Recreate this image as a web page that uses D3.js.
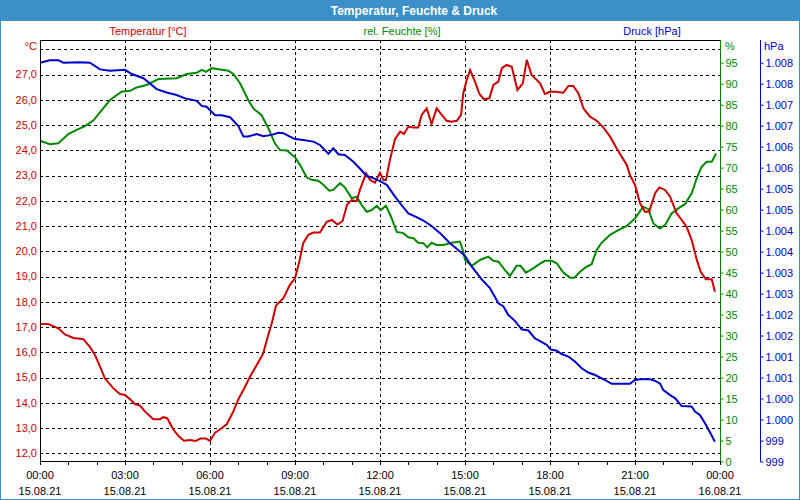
<!DOCTYPE html>
<html><head><meta charset="utf-8">
<script src="https://cdn.jsdelivr.net/npm/d3@7/dist/d3.min.js"></script>
<style>
body{margin:0;background:#fff}
text{font-family:"Liberation Sans",Arial,sans-serif;font-size:11px}
</style>
</head><body>
<svg id="c" width="800" height="500"></svg>
<script>
// ---- data: [hour since 15.08.21 00:00, value] ----
const temperature = [[0,17.12],[0.29,17.12],[0.65,16.95],[0.88,16.71],[1.18,16.57],[1.53,16.52],[1.76,16.22],[1.94,15.89],[2.12,15.43],[2.29,14.97],[2.59,14.57],[2.82,14.35],[3.0,14.31],[3.18,14.14],[3.35,13.95],[3.53,13.89],[3.71,13.65],[4.0,13.35],[4.24,13.35],[4.35,13.43],[4.49,13.39],[4.7,12.95],[4.88,12.69],[5.08,12.5],[5.29,12.53],[5.5,12.49],[5.67,12.59],[5.85,12.59],[6.0,12.49],[6.18,12.82],[6.41,12.99],[6.59,13.15],[6.82,13.65],[7.0,14.14],[7.18,14.51],[7.41,15.03],[7.65,15.5],[7.88,15.96],[8.02,16.55],[8.18,17.15],[8.33,17.85],[8.59,18.14],[8.82,18.67],[9.0,18.93],[9.15,19.59],[9.29,20.32],[9.47,20.65],[9.65,20.74],[9.88,20.74],[10.12,21.17],[10.3,21.24],[10.5,21.06],[10.68,21.2],[10.84,21.85],[11.0,22.03],[11.17,21.98],[11.29,22.43],[11.51,23.09],[11.65,22.82],[11.82,22.72],[12.0,23.11],[12.12,22.82],[12.21,22.82],[12.35,23.62],[12.53,24.44],[12.71,24.74],[12.85,24.65],[13.0,24.93],[13.18,24.9],[13.35,24.9],[13.47,25.4],[13.65,25.66],[13.82,25.04],[14.0,25.66],[14.18,25.4],[14.35,25.17],[14.53,25.13],[14.71,25.17],[14.86,25.4],[14.94,26.26],[15.06,26.78],[15.18,27.18],[15.35,26.72],[15.51,26.23],[15.67,26.02],[15.86,26.06],[16.0,26.59],[16.18,26.72],[16.3,27.25],[16.47,27.38],[16.65,27.31],[16.85,26.39],[17.04,26.65],[17.18,27.58],[17.35,26.98],[17.65,26.65],[17.82,26.23],[18.0,26.32],[18.18,26.32],[18.47,26.28],[18.65,26.55],[18.82,26.55],[19.0,26.26],[19.18,25.66],[19.41,25.33],[19.65,25.17],[19.88,24.91],[20.12,24.54],[20.35,24.08],[20.53,23.75],[20.71,23.42],[20.82,23.02],[21.0,22.63],[21.18,21.9],[21.35,21.57],[21.5,21.57],[21.71,22.3],[21.86,22.53],[22.06,22.43],[22.24,22.16],[22.47,21.5],[22.65,21.24],[22.82,20.97],[23.0,20.45],[23.18,19.66],[23.32,19.19],[23.5,18.89],[23.71,18.89],[23.82,18.4]];

const humidity = [[0,76.4],[0.35,75.6],[0.65,75.8],[1.0,78.0],[1.29,79.0],[1.59,79.9],[1.88,81.2],[2.18,83.7],[2.47,86.1],[2.88,88.1],[3.18,88.3],[3.41,89.1],[3.76,89.7],[4.18,91.1],[4.82,91.3],[5.18,92.3],[5.53,92.6],[5.71,93.3],[5.86,92.8],[6.06,93.7],[6.35,93.4],[6.65,93.1],[6.82,92.3],[7.06,90.1],[7.35,86.1],[7.53,84.1],[7.82,82.5],[8.06,79.4],[8.29,75.8],[8.47,74.2],[8.71,74.1],[9.0,72.5],[9.18,70.6],[9.41,67.7],[9.59,67.1],[9.82,66.9],[10.0,65.9],[10.21,64.5],[10.35,64.7],[10.59,66.3],[10.76,65.3],[11.0,62.7],[11.18,63.1],[11.35,61.1],[11.53,59.5],[11.71,59.9],[11.88,60.9],[12.02,59.9],[12.21,60.9],[12.39,58.3],[12.59,54.7],[12.82,54.4],[13.0,53.4],[13.18,53.2],[13.35,52.1],[13.53,52.0],[13.67,51.0],[13.82,52.1],[14.0,51.6],[14.24,51.6],[14.53,52.1],[14.82,52.4],[14.94,50.0],[15.0,48.0],[15.24,46.6],[15.53,48.0],[15.82,48.8],[16.0,47.8],[16.18,47.6],[16.41,45.6],[16.59,44.2],[16.82,46.6],[16.96,46.6],[17.15,45.0],[17.41,46.0],[17.62,47.0],[17.82,47.8],[18.06,47.8],[18.24,47.2],[18.47,45.0],[18.71,43.8],[18.86,43.8],[19.06,45.2],[19.29,46.4],[19.47,47.0],[19.65,50.4],[19.82,52.1],[20.12,54.0],[20.41,55.1],[20.71,56.1],[21.0,57.9],[21.29,60.7],[21.47,60.1],[21.65,56.7],[21.88,55.5],[22.06,56.3],[22.29,59.1],[22.53,60.3],[22.76,61.3],[23.0,63.9],[23.18,67.5],[23.35,70.2],[23.53,71.4],[23.71,71.4],[23.86,73.4]];

const pressure = [[0,1008.2],[0.35,1008.26],[0.65,1008.26],[0.82,1008.2],[1.41,1008.21],[1.76,1008.2],[2.12,1008.04],[2.47,1008.01],[3.0,1008.03],[3.24,1007.93],[3.65,1007.83],[4.12,1007.57],[4.47,1007.49],[4.82,1007.43],[5.12,1007.35],[5.53,1007.29],[5.71,1007.17],[5.88,1007.15],[6.18,1006.95],[6.41,1006.95],[6.71,1006.9],[7.0,1006.69],[7.18,1006.44],[7.35,1006.44],[7.65,1006.5],[7.88,1006.45],[8.18,1006.48],[8.41,1006.53],[8.59,1006.52],[8.82,1006.44],[9.0,1006.38],[9.29,1006.36],[9.65,1006.32],[9.88,1006.24],[10.18,1006.03],[10.35,1006.16],[10.53,1006.02],[10.76,1006.0],[11.06,1005.84],[11.29,1005.68],[11.53,1005.5],[11.76,1005.45],[12.0,1005.38],[12.24,1005.29],[12.53,1005.01],[12.76,1004.81],[13.0,1004.61],[13.29,1004.52],[13.53,1004.44],[13.82,1004.31],[14.12,1004.14],[14.47,1003.9],[14.76,1003.74],[15.0,1003.6],[15.24,1003.34],[15.59,1003.04],[15.88,1002.83],[16.18,1002.47],[16.35,1002.4],[16.53,1002.19],[16.76,1002.05],[17.0,1001.85],[17.24,1001.82],[17.47,1001.63],[17.65,1001.57],[17.88,1001.48],[18.02,1001.37],[18.24,1001.34],[18.41,1001.26],[18.65,1001.2],[18.88,1001.08],[19.12,1000.92],[19.35,1000.82],[19.59,1000.76],[19.88,1000.66],[20.18,1000.55],[20.82,1000.55],[21.0,1000.64],[21.18,1000.66],[21.53,1000.66],[21.71,1000.62],[21.88,1000.56],[22.0,1000.4],[22.24,1000.28],[22.41,1000.21],[22.65,1000.02],[23.0,1000.01],[23.12,999.89],[23.29,999.81],[23.47,999.61],[23.65,999.39],[23.82,999.17]];

// ---- axis ticks / labels ----
const tempTicks = [12,13,14,15,16,17,18,19,20,21,22,23,24,25,26,27,28];
const tempLabelTicks = [12,13,14,15,16,17,18,19,20,21,22,23,24,25,26,27];
const humTicks = [0,5,10,15,20,25,30,35,40,45,50,55,60,65,70,75,80,85,90,95];
const pressTicks = [998.7,999.2,999.7,1000.2,1000.7,1001.2,1001.7,1002.2,1002.7,1003.2,1003.7,1004.2,1004.7,1005.2,1005.7,1006.2,1006.7,1007.2,1007.7,1008.2];
const hourTicks = [0,1,2,3,4,5,6,7,8,9,10,11,12,13,14,15,16,17,18,19,20,21,22,23,24];
const timeLabelHours = [0,3,6,9,12,15,18,21,24];
const timeLabels = ["00:00","03:00","06:00","09:00","12:00","15:00","18:00","21:00","00:00"];
const dateLabels = ["15.08.21","15.08.21","15.08.21","15.08.21","15.08.21","15.08.21","15.08.21","15.08.21","16.08.21"];
const gridHours = [3,6,9,12,15,18,21];

const title = "Temperatur, Feuchte & Druck";
const seriesNames = ["Temperatur [°C]","rel. Feuchte [%]","Druck [hPa]"];

const RED = "#cc0000", GREEN = "#008800", BLUE = "#0000cc", BAR = "#3c8fc8";

const loc = d3.formatLocale({decimal:",", thousands:".", grouping:[3], currency:["","€"]});
const fT = loc.format(".1f"), fP = loc.format(",.0f");

const svg = d3.select("#c");
const L = 40, R = 720, T = 40, B = 461;

const x = d3.scaleLinear().domain([0,24]).range([L,R]);
const yT = d3.scaleLinear().domain([12,28]).range([453.3,49.3]);
const yH = d3.scaleLinear().domain([0,100]).range([461.5,41.7]);
const yP = d3.scaleLinear().domain([998.7,1008.7]).range([461.5,41.7]);

svg.append("rect").attr("x",0).attr("y",0).attr("width",800).attr("height",500).attr("fill","#fff");
svg.append("rect").attr("x",0).attr("y",0).attr("width",800).attr("height",21).attr("fill",BAR);
svg.append("rect").attr("x",0.5).attr("y",0.5).attr("width",799).attr("height",499).attr("fill","none").attr("stroke",BAR);
svg.append("text").attr("x",414).attr("y",14.5).attr("text-anchor","middle").attr("fill","#fff")
  .style("font-weight","bold").style("font-size","12px").text(title);

// series labels
const sx = [148,402,652], sc = [RED,GREEN,BLUE];
seriesNames.forEach((n,i)=>svg.append("text").attr("x",sx[i]).attr("y",35).attr("text-anchor","middle").attr("fill",sc[i]).text(n));

// grid
const g = svg.append("g").attr("stroke","#000").attr("stroke-dasharray","3,3").attr("stroke-width",1);
tempTicks.forEach(t=>{const yy=Math.round(yT(t))+0.5;g.append("line").attr("x1",L).attr("x2",R).attr("y1",yy).attr("y2",yy);});
gridHours.forEach(h=>{const xx=Math.round(x(h))+0.5;g.append("line").attr("x1",xx).attr("x2",xx).attr("y1",T).attr("y2",B);});

// lines
const line = (ys)=>d3.line().x(d=>x(d[0])).y(d=>ys(d[1]));
svg.append("path").datum(humidity).attr("d",line(yH)).attr("fill","none").attr("stroke",GREEN).attr("stroke-width",2);
svg.append("path").datum(temperature).attr("d",line(yT)).attr("fill","none").attr("stroke",RED).attr("stroke-width",2);
svg.append("path").datum(pressure).attr("d",line(yP)).attr("fill","none").attr("stroke",BLUE).attr("stroke-width",2);

// frame
svg.append("line").attr("x1",L).attr("x2",R).attr("y1",T+0.5).attr("y2",T+0.5).attr("stroke","#000");
svg.append("line").attr("x1",L+0.5).attr("x2",L+0.5).attr("y1",T).attr("y2",B+1).attr("stroke","#000");
svg.append("line").attr("x1",L).attr("x2",R).attr("y1",B+0.5).attr("y2",B+0.5).attr("stroke","#000");

// left axis labels
tempLabelTicks.forEach(t=>svg.append("text").attr("x",37).attr("y",yT(t)).attr("dy","0.35em").attr("text-anchor","end").attr("fill",RED).text(fT(t)));
svg.append("text").attr("x",37).attr("y",46).attr("dy","0.35em").attr("text-anchor","end").attr("fill",RED).text("°C");

// right humidity axis
const axH = d3.axisRight(yH).tickValues(humTicks).tickSize(3).tickPadding(2).tickFormat(d=>d);
const gh = svg.append("g").attr("transform",`translate(${R+0.5},0)`).call(axH);
gh.select(".domain").remove();
gh.selectAll("line").attr("stroke",GREEN);
gh.selectAll("text").attr("fill",GREEN).style("font-family",'"Liberation Sans",Arial,sans-serif').style("font-size","11px");
svg.append("line").attr("x1",R+0.5).attr("x2",R+0.5).attr("y1",T).attr("y2",B+1).attr("stroke",GREEN);
svg.append("text").attr("x",725).attr("y",46).attr("dy","0.35em").attr("fill",GREEN).text("%");

// pressure axis
const axP = d3.axisRight(yP).tickValues(pressTicks).tickSize(3).tickPadding(2).tickFormat(d=>fP(d));
const gp = svg.append("g").attr("transform",`translate(760.5,0)`).call(axP);
gp.select(".domain").remove();
gp.selectAll("line").attr("stroke",BLUE);
gp.selectAll("text").attr("fill",BLUE).style("font-family",'"Liberation Sans",Arial,sans-serif').style("font-size","11px");
svg.append("line").attr("x1",760.5).attr("x2",760.5).attr("y1",T).attr("y2",B+1).attr("stroke",BLUE);
svg.append("text").attr("x",764).attr("y",46).attr("dy","0.35em").attr("fill",BLUE).text("hPa");

// bottom axis
hourTicks.forEach(h=>{const xx=Math.round(x(h))+0.5;svg.append("line").attr("x1",xx).attr("x2",xx).attr("y1",B).attr("y2",B+4).attr("stroke","#000");});
timeLabelHours.forEach((h,i)=>{
  svg.append("text").attr("x",x(h)).attr("y",479).attr("text-anchor","middle").attr("fill","#000").text(timeLabels[i]);
  svg.append("text").attr("x",x(h)).attr("y",495).attr("text-anchor","middle").attr("fill","#000").text(dateLabels[i]);
});
</script>
</body></html>
